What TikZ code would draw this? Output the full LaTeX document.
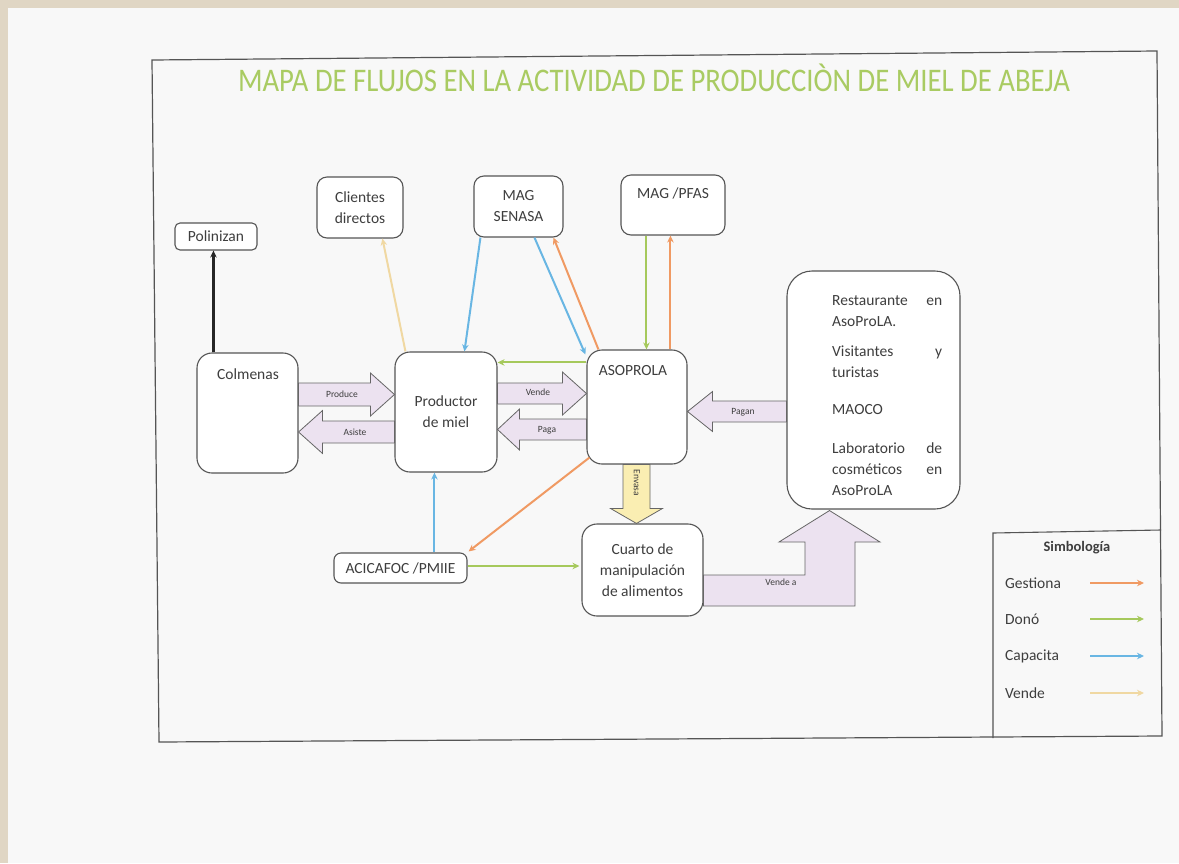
\documentclass[tikz,border=0pt]{standalone}
\usepackage{fontspec}
\setmainfont{Carlito}
\usetikzlibrary{calc,arrows.meta}
\definecolor{bgbeige}{HTML}{E0D6C4}
\definecolor{paper}{HTML}{F8F8F8}
\definecolor{frameC}{HTML}{555555}
\definecolor{txt}{HTML}{3E3E3E}
\definecolor{titleC}{HTML}{A9CB62}
\definecolor{cOr}{HTML}{F09A63}
\definecolor{cGr}{HTML}{A6C95C}
\definecolor{cBl}{HTML}{69B6E3}
\definecolor{cYe}{HTML}{F0D8A2}
\definecolor{lav}{HTML}{ECE2F0}
\definecolor{envY}{HTML}{FAEEB2}
\tikzset{
  box/.style={draw=frameC, line width=1.1pt, fill=white, inner sep=0pt, align=center,
    font=\fontsize{15.5}{21}\selectfont, text=txt},
  btext/.style={font=\fontsize{15.5}{21}\selectfont, text=txt, inner sep=0pt},
  small/.style={font=\fontsize{9.5}{11}\selectfont, text=txt, inner sep=0pt},
  flow/.style={line width=2pt, -{Stealth[length=7pt,width=6.5pt]}},
  blockstyle/.style={draw=gray!80!black, line width=0.8pt, fill=lav},
}
\newcommand\blockarr[6][]{%
  \path (#2) coordinate (ba-A) (#3) coordinate (ba-B);
  \path ($(ba-B)!#6!(ba-A)$) coordinate (ba-H);
  \draw[blockstyle,#1] ($(ba-A)!#4!90:(ba-B)$) -- ($(ba-H)!#4!90:(ba-B)$) -- ($(ba-H)!#5!90:(ba-B)$) -- (ba-B)
    -- ($(ba-H)!#5!-90:(ba-B)$) -- ($(ba-H)!#4!-90:(ba-B)$) -- ($(ba-A)!#4!-90:(ba-B)$) -- cycle;}
\begin{document}
\begin{tikzpicture}[x=1pt,y=-1pt]
\useasboundingbox (0,0) rectangle (1179,863);
\fill[bgbeige] (0,0) rectangle (1179,863);
\fill[paper] (8,8) rectangle (1179,863);
% frame
\draw[frameC, line width=1.2pt] (152,60) -- (1157,51) -- (1162,736) -- (159,742) -- cycle;
\node[text=titleC, inner sep=0pt] (title) at (654,78) {\resizebox{832pt}{\height}{\fontsize{33}{38}\selectfont MAPA DE FLUJOS EN LA ACTIVIDAD DE PRODUCCI\`ON DE MIEL DE ABEJA}};

% nodes
\node[box, rounded corners=5pt, minimum width=82pt, minimum height=27pt] (pol) at (216,236.5) {Polinizan};
\node[box, rounded corners=15pt, minimum width=101pt, minimum height=120pt] (colm) at (247.5,413) {};
\node[btext] (colmT) at (248,374) {Colmenas};
\node[box, rounded corners=10pt, minimum width=86pt, minimum height=61pt] (cli) at (360,207.5) {Clientes\\directos};
\node[box, rounded corners=15pt, minimum width=102pt, minimum height=120pt] (prod) at (446,412) {Productor\\de miel};
\node[box, rounded corners=10pt, minimum width=89pt, minimum height=61pt] (sen) at (518.5,206.5) {MAG\\SENASA};
\node[box, rounded corners=10pt, minimum width=104pt, minimum height=60pt] (pfas) at (673,205) {};
\node[btext] (pfasT) at (673,193) {MAG /PFAS};
\node[box, rounded corners=15pt, minimum width=100pt, minimum height=114pt] (aso) at (637,407) {};
\node[btext] (asoT) at (633,371) {ASOPROLA};
\node[box, rounded corners=25pt, minimum width=173pt, minimum height=238pt] (rbox) at (873.5,390) {};
\node[btext, anchor=north west, align=left] (rboxT) at (832,295) {%
\hbox to 110pt{Restaurante\hfill en}\\ AsoProLA.\\[9pt]
\hbox to 110pt{Visitantes\hfill y}\\ turistas\\[16pt]
MAOCO\\[18pt]
\hbox to 110pt{Laboratorio\hfill de}\\ \hbox to 110pt{cosméticos\hfill en}\\ AsoProLA};
\node[box, rounded corners=15pt, minimum width=121pt, minimum height=92pt] (cua) at (642.5,570) {Cuarto de\\manipulación\\de alimentos};
\node[box, rounded corners=7pt, minimum width=133pt, minimum height=30pt] (aci) at (400.5,568) {ACICAFOC /PMIIE};

% block arrows
\blockarr{$(colm.east)+(0,-18.5)$}{$(prod.west)+(0,-17.5)$}{11.5pt}{21.5pt}{24pt}
\node[small] (lProd) at (342,394) {Produce};
\blockarr{$(prod.west)+(0,20)$}{$(colm.east)+(0,19)$}{11pt}{21.5pt}{24pt}
\node[small] (lAsi) at (355,432) {Asiste};
\blockarr{$(prod.east)+(0,-18.5)$}{$(aso.west)+(0,-13.5)$}{10.5pt}{21.5pt}{24pt}
\node[small] (lVen) at (538,392) {Vende};
\blockarr{$(aso.west)+(0,22.5)$}{$(prod.east)+(0,17.5)$}{10.5pt}{20.5pt}{22pt}
\node[small] (lPag) at (547,430) {Paga};
\blockarr{$(rbox.west)+(0,21.5)$}{$(aso.east)+(0,4.5)$}{10.5pt}{20pt}{25pt}
\node[small] (lPagan) at (743,412) {Pagan};
\blockarr[fill=envY]{$(aso.south)+(-0.5,0)$}{$(cua.north)+(-6,0)$}{13.5pt}{26pt}{15pt}
\node[small, rotate=-90] (lEnv) at (637,483) {Envasa};
\draw[blockstyle] (cua.east |- 0,575) -- (805,575) -- (805,542) -- (779,542) -- ($(rbox.south)+(-44,1)$)
  -- (880,542) -- (855,542) -- (855,606) -- (cua.east |- 0,606) -- cycle;
\node[small] (lVa) at (781,582) {Vende a};

% connectors
\draw[line width=2.4pt, -{Stealth[length=7pt,width=6.5pt]}, black!85] ($(colm.north west)+(17,0)$) -- ($(pol.south west)+(39,0)$);
\draw[flow, cYe] ($(prod.north west)+(11,0)$) -- ($(cli.south west)+(66,0)$);
\draw[flow, cBl] ($(sen.south west)+(7,0)$) -- ($(prod.north west)+(70,0)$);
\draw[flow, cBl] ($(sen.south west)+(61,0)$) -- ($(aso.north west)+(-1,5)$);
\draw[flow, cOr] ($(aso.north west)+(12,0)$) -- ($(sen.south west)+(80,0)$);
\draw[flow, cGr] ($(pfas.south west)+(26,0)$) -- ($(aso.north west)+(60,0)$);
\draw[flow, cOr] ($(aso.north west)+(84,0)$) -- ($(pfas.south west)+(50,0)$);
\draw[flow, cGr] ($(aso.north west)+(0,13)$) -- ($(prod.north east)+(0,11)$);
\draw[flow, cOr] ($(aso.south west)+(3,-7)$) -- ($(aci.north east)+(1,-1)$);
\draw[flow, cBl] ($(aci.north west)+(101,0)$) -- ($(prod.south west)+(40,0)$);
\draw[flow, cGr] ($(aci.east)+(0,-2)$) -- ($(cua.west)+(-2,-4)$);

% legend
\draw[frameC, line width=1.1pt] (1161,530) -- (993,533) -- (993,738);
\node[btext, font=\fontsize{14.5}{17}\selectfont\bfseries] (legT) at (1077,548) {Simbología};
\node[btext, anchor=west] (lg1) at (1005,583) {Gestiona};
\node[btext, anchor=west] (lg2) at (1005,619) {Donó};
\node[btext, anchor=west] (lg3) at (1005,656) {Capacita};
\node[btext, anchor=west] (lg4) at (1005,693) {Vende};
\coordinate (a1s) at (1090,583); \coordinate (a1e) at (1144,583);
\coordinate (a2s) at (1090,619); \coordinate (a2e) at (1144,619);
\coordinate (a3s) at (1090,656); \coordinate (a3e) at (1144,656);
\coordinate (a4s) at (1090,693); \coordinate (a4e) at (1144,693);
\draw[flow, cOr] (a1s) -- (a1e);
\draw[flow, cGr] (a2s) -- (a2e);
\draw[flow, cBl] (a3s) -- (a3e);
\draw[flow, cYe] (a4s) -- (a4e);
\end{tikzpicture}
\end{document}
